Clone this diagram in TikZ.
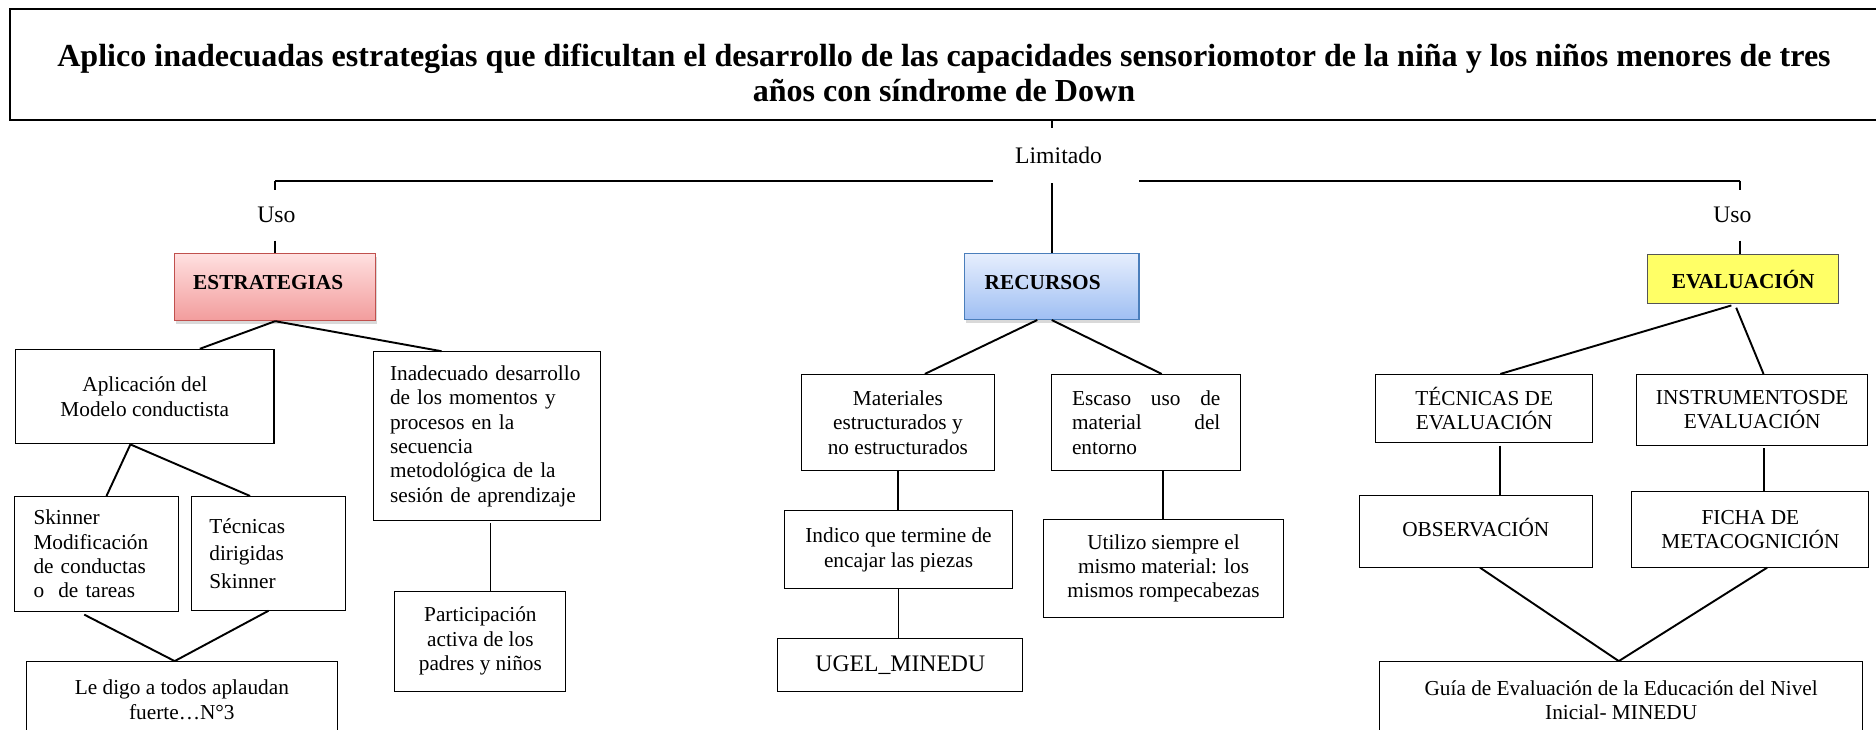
\documentclass[tikz,border=0pt]{standalone}
\usepackage{fontspec}
\setmainfont{Liberation Serif}
\usetikzlibrary{shadows}

\definecolor{estrtop}{HTML}{FFE0E0}
\definecolor{estrbot}{HTML}{F29C9C}
\definecolor{estrline}{HTML}{C0504D}
\definecolor{rectop}{HTML}{E6EEFD}
\definecolor{recbot}{HTML}{9FBFF3}
\definecolor{recline}{HTML}{4A7EBB}
\definecolor{evfill}{HTML}{FFFF66}
\definecolor{evline}{HTML}{555555}

\newcommand\boxfont{\fontsize{17.8}{20.4}\selectfont}
\newcommand\tagfont{\fontsize{19.8}{23}\selectfont}
\newcommand\ttlfont{\fontsize{26.8}{29}\selectfont\bfseries}

\begin{document}
\begin{tikzpicture}[x=1pt,y=-1pt,
  box node/.style={draw,line width=0.9pt,inner sep=0pt,align=center,font=\boxfont},
  head node/.style={box node,font=\boxfont\bfseries},
  tag node/.style={inner sep=0pt,font=\tagfont},
  wh/.style 2 args={minimum width=#1pt,minimum height=#2pt},
  link/.style={line width=1.6pt}]

  \useasboundingbox (0,0) rectangle (1568,610);

  % titulo
  \node[box node,line width=1.7pt,wh={1562}{92.5}] (title) at (789,54) {};
  \node[font=\ttlfont,align=center,inner sep=0pt] (ttl) at (789,61)
    {Aplico inadecuadas estrategias que dificultan el desarrollo de las capacidades sensoriomotor de la niña y los niños menores de tres\\años con síndrome de Down};

  \coordinate (hl) at (230,151);
  \coordinate (hr) at (1454,151);
  \node[tag node,wh={40}{42}] (uso1) at (231,180) {Uso};
  \node[tag node,wh={40}{42}] (uso2) at (1448,180) {Uso};

  % cabeceras
  \node[head node,top color=estrtop,bottom color=estrbot,draw=estrline,
    drop shadow={opacity=0.3,shadow xshift=1pt,shadow yshift=-3pt},
    wh={168}{56},align=left,text width=137pt,text depth=8pt] (estr) at (230,240) {ESTRATEGIAS};
  \node[head node,top color=rectop,bottom color=recbot,draw=recline,
    drop shadow={opacity=0.3,shadow xshift=1pt,shadow yshift=-3pt},
    wh={146}{55},align=left,text width=112pt,text depth=7pt] (rec) at (879,239.5) {RECURSOS};
  \node[head node,fill=evfill,draw=evline,wh={160}{41}] (ev) at (1457,233.5) {EVALUACIÓN};

  % estrategias
  \node[box node,wh={216}{79}] (apl) at (121,331.5) {Aplicación del\\Modelo conductista};
  \node[box node,wh={190}{141},align=left,text width=162pt] (inad) at (407,364.5)
    {Inadecuado desarrollo\\de los momentos y\\procesos en la\\secuencia\\metodológica de la\\sesión de aprendizaje};
  \node[box node,wh={137}{96},align=left,text width=105pt] (skin) at (80.5,463)
    {Skinner\\Modificación\\de conductas\\o\ \ de tareas};
  \node[box node,wh={129}{95},align=left,text width=99pt,font=\fontsize{17.8}{23}\selectfont] (tecn) at (224.5,462.5)
    {Técnicas\\dirigidas\\Skinner};
  \node[box node,wh={260}{64}] (digo) at (152,585) {Le digo a todos aplaudan\\fuerte…N°3};
  \node[box node,wh={143}{84}] (part) at (401.5,536) {Participación\\activa de los\\padres y niños};

  % recursos
  \node[box node,wh={161}{80}] (mat) at (750.5,353) {Materiales\\estructurados y\\no estructurados};
  \node[box node,wh={158}{80},align=left,text width=124pt] (esc) at (958,353)
    {Escaso\hfill uso\hfill de\\material\hfill del\\entorno};
  \node[box node,wh={190}{65}] (ind) at (751,459.5) {Indico que termine de\\encajar las piezas};
  \node[box node,font=\tagfont,wh={205}{44}] (ugel) at (752.5,556) {UGEL\_MINEDU};
  \node[box node,wh={201}{82}] (uti) at (972.5,475) {Utilizo siempre el\\mismo material: los\\mismos rompecabezas};

  % evaluacion
  \node[box node,wh={181}{57}] (tec) at (1240.5,341.5) {TÉCNICAS DE\\EVALUACIÓN};
  \node[box node,wh={193}{59}] (ins) at (1464.5,342.5) {INSTRUMENTOSDE\\EVALUACIÓN};
  \node[box node,wh={195}{60},text depth=6pt] (obs) at (1233.5,444) {OBSERVACIÓN};
  \node[box node,wh={198}{63}] (fic) at (1463,442.5) {FICHA DE\\METACOGNICIÓN};
  \node[box node,wh={404}{64}] (gui) at (1355,585) {Guía de Evaluación de la Educación del Nivel\\Inicial- MINEDU};

  % conectores
  \draw[link] (title.south -| rec.north) -- (rec.north);
  \draw[link] (hl) -- (hr);
  \draw[link] (hl) -- (hl |- uso1.north);
  \draw[link] (hr) -- (hr |- uso2.north);
  \draw[link] (uso1.south -| estr.north) -- (estr.north);
  \draw[link] (uso2.south -| hr) -- (ev.north -| hr);

  \draw[link] (estr.south) -- ([xshift=46pt]apl.north);
  \draw[link] (estr.south) -- ([xshift=-38pt]inad.north);
  \draw[link] ([xshift=-12pt]apl.south) -- ([xshift=8.5pt]skin.north);
  \draw[link] ([xshift=-12pt]apl.south) -- ([xshift=-15.5pt]tecn.north);
  \draw[link,shorten <=5pt] ([xshift=-14.5pt]skin.south) -- ([xshift=-6pt]digo.north);
  \draw[link] (tecn.south) -- ([xshift=-6pt]digo.north);
  \draw[link,shorten <=2pt] ([xshift=3pt]inad.south) -- ([xshift=3pt]inad.south |- part.north);

  \draw[link] ([xshift=-12pt]rec.south) -- ([xshift=22.5pt]mat.north);
  \draw[link] (rec.south) -- ([xshift=13pt]esc.north);
  \draw[link] (mat.south) -- (mat.south |- ind.north);
  \draw[link] (ind.south) -- (ind.south |- ugel.north);
  \draw[link] ([xshift=14pt]esc.south) -- ([xshift=14pt]esc.south |- uti.north);

  \draw[link,shorten <=3pt] ([xshift=-7pt]ev.south) -- ([xshift=13.5pt]tec.north);
  \draw[link,shorten <=3pt] ([xshift=-7pt]ev.south) -- ([xshift=9.5pt]ins.north);
  \draw[link,shorten <=2pt] ([xshift=13.5pt]tec.south) -- ([xshift=13.5pt]tec.south |- obs.north);
  \draw[link,shorten <=2pt] ([xshift=9.5pt]ins.south) -- ([xshift=9.5pt]ins.south |- fic.north);
  \draw[link] ([xshift=3.5pt]obs.south) -- ([xshift=-2pt]gui.north);
  \draw[link] ([xshift=14pt]fic.south) -- ([xshift=-2pt]gui.north);

  % Limitado tapa la linea
  \node[tag node,fill=white,wh={122}{46},align=left,text width=85pt] (lim) at (891,130) {Limitado};
\end{tikzpicture}
\end{document}
